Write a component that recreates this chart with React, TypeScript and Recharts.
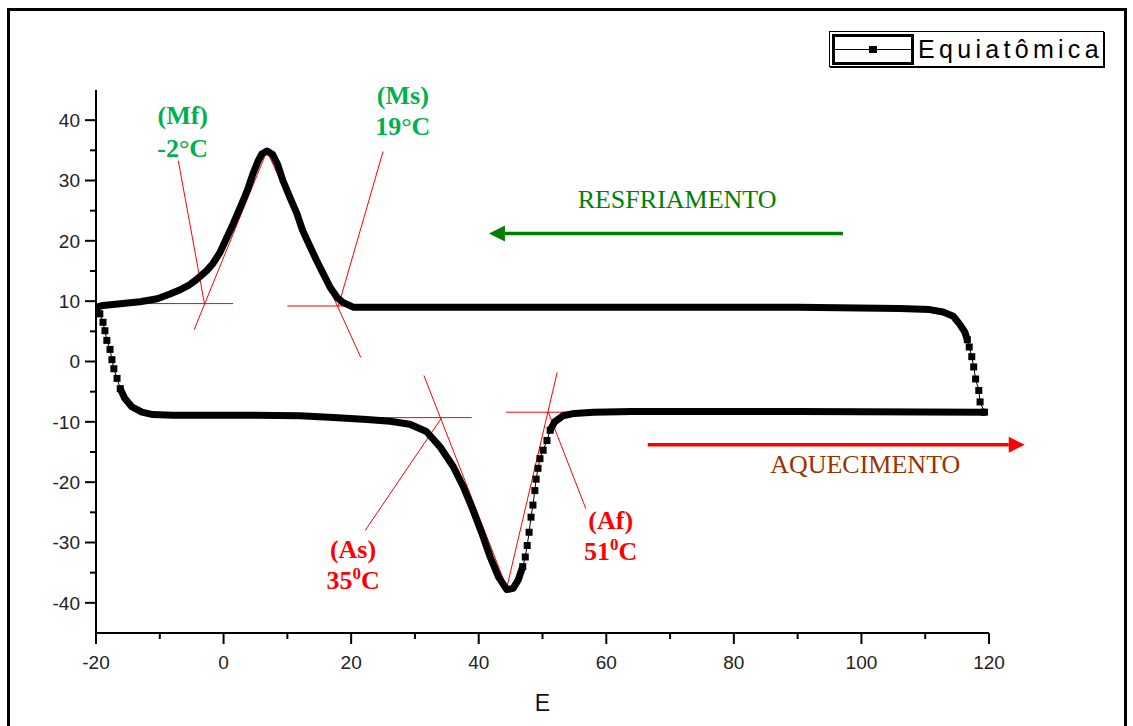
import React from 'react';
import { ComposedChart, Scatter, XAxis, YAxis, ReferenceLine, ReferenceDot } from 'recharts';

// curva DSC (aquecimento = ramo de baixo, resfriamento = ramo de cima)
// trechos "drop/rise" sao os pontos espaçados, os outros sao densos
const heatingDrop = [
  [-19.8, 9.0], [-19.4, 7.9], [-18.9, 6.5], [-18.6, 5.1], [-18.3, 3.5], [-17.8, 2.0],
  [-17.5, 0.3], [-17.2, -1.2], [-16.7, -2.8], [-16.2, -4.5],
];
const heatingBase = [
  [-16.2, -4.5], [-15.5, -6.1], [-14.4, -7.5], [-12.8, -8.4], [-11.1, -8.8], [-7.9, -8.9],
  [4.1, -8.9], [12.0, -9.0], [17.2, -9.3], [22.5, -9.6], [26.1, -9.9], [29.2, -10.4],
  [31.8, -11.6], [33.9, -14.1], [36.0, -17.4], [37.6, -20.8], [39.1, -24.6], [40.5, -28.5],
  [41.8, -32.4], [43.1, -35.7], [44.4, -37.8], [45.4, -37.6], [46.2, -36.2], [46.9, -34.0],
];
const heatingRise = [
  [46.9, -34.0], [47.3, -32.4], [47.6, -30.5], [47.9, -28.3], [48.2, -25.8], [48.5, -23.8],
  [48.8, -21.4], [49.0, -19.5], [49.3, -17.7], [49.6, -16.1], [50.1, -14.7], [50.7, -13.1],
  [51.2, -11.4],
];
const heatingTail = [
  [51.2, -11.4], [51.9, -10.0], [53.2, -9.0], [55.0, -8.6], [58.0, -8.4], [64.0, -8.3],
  [90.0, -8.3], [119.5, -8.4],
];
const coolingRise = [
  [119.3, -8.4], [118.6, -6.7], [118.4, -4.8], [117.9, -2.9], [117.6, -0.9], [117.3, 0.8],
  [116.9, 2.4], [116.6, 3.6],
];
const coolingBase = [
  [116.6, 3.6], [116.2, 4.9], [115.4, 6.2], [114.4, 7.5], [112.8, 8.2], [110.7, 8.6],
  [106.0, 8.8], [90.0, 9.0], [60.0, 9.0], [40.0, 9.0], [24.5, 9.0], [20.3, 9.0],
  [18.7, 9.8], [17.8, 10.6], [16.7, 12.3], [15.6, 14.6], [14.6, 16.7], [13.5, 19.2],
  [12.4, 21.7], [11.5, 24.5], [10.4, 27.2], [9.3, 30.0], [8.5, 32.6], [7.7, 34.3],
  [6.8, 34.9], [6.0, 34.4], [5.4, 33.2], [4.6, 31.1], [3.7, 28.3], [2.6, 25.5],
  [1.5, 22.8], [0.5, 20.5], [-0.6, 18.0], [-1.7, 16.2], [-2.6, 15.1], [-4.2, 13.6],
  [-5.5, 12.6], [-7.0, 11.8], [-8.4, 11.2], [-10.4, 10.4], [-13.1, 9.9], [-15.8, 9.6],
  [-18.9, 9.3], [-19.8, 9.0],
];

const xTicks = [-20, -10, 0, 10, 20, 30, 40, 50, 60, 70, 80, 90, 100, 110, 120];
const yTicks = [-40, -35, -30, -25, -20, -15, -10, -5, 0, 5, 10, 15, 20, 25, 30, 35, 40];

// retas tangentes (vermelho)
const tangents = [
  [[-18.9, 9.6], [1.5, 9.6]],
  [[-7.1, 33.3], [-3.0, 9.6]],
  [[6.8, 34.9], [-4.6, 5.3]],
  [[10.0, 9.2], [23.7, 9.2]],
  [[6.8, 34.9], [21.5, 0.7]],
  [[25.0, 34.8], [18.0, 9.2]],
  [[21.7, -9.3], [38.9, -9.3]],
  [[22.2, -28.0], [34.2, -9.3]],
  [[31.4, -2.3], [44.4, -37.5]],
  [[44.4, -37.5], [52.3, -1.8]],
  [[44.3, -8.4], [58.0, -8.4]],
  [[50.9, -8.4], [56.8, -24.4]],
];

const toPts = (rows: number[][]) => rows.map(([x, y]) => ({ x, y }));

const serif = '"Liberation Serif", "Times New Roman", serif';
const sans = '"Liberation Sans", Arial, sans-serif';

const Square = ({ cx, cy }: any) => <rect x={cx - 3.5} y={cy - 3.5} width={7} height={7} fill="#000" />;
const NoDot = () => <g />;

const XTick = ({ x, y, payload }: any) => {
  const major = payload.value % 20 === 0;
  return (
    <g>
      <line x1={x} x2={x} y1={y} y2={y + (major ? 11 : 6)} stroke="#000" strokeWidth={2} />
      {major && (
        <text x={x} y={y + 36} textAnchor="middle" fontFamily={sans} fontSize={19} fill="#222">
          {payload.value}
        </text>
      )}
    </g>
  );
};

const YTick = ({ x, y, payload }: any) => {
  const major = payload.value % 10 === 0;
  return (
    <g>
      <line x1={x - (major ? 11 : 6)} x2={x} y1={y} y2={y} stroke="#000" strokeWidth={2} />
      {major && (
        <text x={x - 16} y={y} dy="0.36em" textAnchor="end" fontFamily={sans} fontSize={19} fill="#222">
          {payload.value}
        </text>
      )}
    </g>
  );
};

const arrowShape = (color: string) => (p: any) => {
  const { x1, y1, x2, y2 } = p;
  const dir = x2 > x1 ? 1 : -1;
  const head = 16;
  return (
    <g>
      <line x1={x1} y1={y1} x2={x2 - dir * head} y2={y2} stroke={color} strokeWidth={3.5} />
      <polygon points={`${x2},${y2} ${x2 - dir * head},${y2 - 8} ${x2 - dir * head},${y2 + 8}`} fill={color} />
    </g>
  );
};

// rotulo de duas linhas, a segunda com expoente opcional
const twoLines = (l1: string, l2: string, sup: string, tail: string, color: string, gap: number) => (p: any) => (
  <text x={p.cx} y={p.cy} textAnchor="middle" fontFamily={serif} fontWeight="bold" fontSize={26} fill={color}>
    <tspan x={p.cx}>{l1}</tspan>
    <tspan x={p.cx} dy={gap}>{l2}</tspan>
    {sup && <tspan dy={-10} fontSize={17}>{sup}</tspan>}
    {sup && <tspan dy={10}>{tail}</tspan>}
  </text>
);

const plainText = (txt: string, color: string) => (p: any) => (
  <text x={p.cx} y={p.cy} textAnchor="middle" fontFamily={serif} fontSize={26} fill={color}>
    {txt}
  </text>
);

export default function App() {
  return (
    <div style={{ position: 'fixed', left: 0, top: 0, width: 1133, height: 726, overflow: 'hidden', background: '#fff' }}>
      <ComposedChart width={1133} height={726} margin={{ top: 90, right: 144, bottom: 33, left: 36 }}>
        <XAxis
          dataKey="x"
          type="number"
          domain={[-20, 120]}
          ticks={xTicks}
          interval={0}
          tickSize={0}
          tickMargin={0}
          tickLine={false}
          tick={<XTick />}
          height={60}
          axisLine={{ stroke: '#000', strokeWidth: 2 }}
          allowDataOverflow
          label={{ value: 'E', position: 'bottom', offset: 2, style: { fontFamily: sans, fontSize: 23, fill: '#111' } }}
        />
        <YAxis
          dataKey="y"
          type="number"
          domain={[-45, 45]}
          ticks={yTicks}
          interval={0}
          tickSize={0}
          tickMargin={0}
          tickLine={false}
          tick={<YTick />}
          width={60}
          axisLine={{ stroke: '#000', strokeWidth: 2 }}
          allowDataOverflow
        />

        <Scatter data={toPts(heatingBase)} shape={NoDot} line={{ stroke: '#000', strokeWidth: 7, strokeLinejoin: 'round' }} isAnimationActive={false} />
        <Scatter data={toPts(heatingTail)} shape={NoDot} line={{ stroke: '#000', strokeWidth: 7, strokeLinejoin: 'round' }} isAnimationActive={false} />
        <Scatter data={toPts(coolingBase)} shape={NoDot} line={{ stroke: '#000', strokeWidth: 7, strokeLinejoin: 'round' }} isAnimationActive={false} />
        <Scatter data={toPts(heatingDrop)} shape={Square} line={{ stroke: '#000', strokeWidth: 1 }} isAnimationActive={false} />
        <Scatter data={toPts(heatingRise)} shape={Square} line={{ stroke: '#000', strokeWidth: 1 }} isAnimationActive={false} />
        <Scatter data={toPts(coolingRise)} shape={Square} line={{ stroke: '#000', strokeWidth: 1 }} isAnimationActive={false} />

        {tangents.map(([a, b], i) => (
          <ReferenceLine key={i} segment={[{ x: a[0], y: a[1] }, { x: b[0], y: b[1] }]} stroke="#ff0000" strokeWidth={1} ifOverflow="visible" />
        ))}

        <ReferenceLine segment={[{ x: 97.1, y: 21.2 }, { x: 41.6, y: 21.2 }]} ifOverflow="visible" shape={arrowShape('#008000')} />
        <ReferenceLine segment={[{ x: 66.5, y: -13.8 }, { x: 125.6, y: -13.8 }]} ifOverflow="visible" shape={arrowShape('#ff0000')} />

        <ReferenceDot x={-6.4} y={39.3} r={0} ifOverflow="visible" shape={twoLines('(Mf)', '-2°C', '', '', '#00b050', 33)} />
        <ReferenceDot x={28.1} y={42.6} r={0} ifOverflow="visible" shape={twoLines('(Ms)', '19°C', '', '', '#00b050', 31)} />
        <ReferenceDot x={20.3} y={-32.6} r={0} ifOverflow="visible" shape={twoLines('(As)', '35', '0', 'C', '#ff0000', 31)} />
        <ReferenceDot x={60.7} y={-27.8} r={0} ifOverflow="visible" shape={twoLines('(Af)', '51', '0', 'C', '#ff0000', 31)} />
        <ReferenceDot x={71.1} y={25.4} r={0} ifOverflow="visible" shape={plainText('RESFRIAMENTO', '#008000')} />
        <ReferenceDot x={100.6} y={-18.4} r={0} ifOverflow="visible" shape={plainText('AQUECIMENTO', '#993300')} />
      </ComposedChart>

      {/* moldura externa */}
      <div style={{ position: 'absolute', left: 7, top: 8, width: 1120, height: 760, border: '3px solid #000', boxSizing: 'border-box', pointerEvents: 'none' }} />

      {/* legenda */}
      <div
        style={{
          position: 'absolute', left: 829, top: 31, width: 275, height: 36, boxSizing: 'border-box',
          border: '1px solid #000', boxShadow: '1px 1px 0 #000', background: '#fff', display: 'flex', alignItems: 'center',
        }}
      >
        <svg width={82} height={31} style={{ marginLeft: 2, display: 'block' }}>
          <rect x={1.5} y={1.5} width={79} height={28} fill="none" stroke="#000" strokeWidth={3} />
          <line x1={3} x2={79} y1={15.5} y2={15.5} stroke="#000" strokeWidth={1} />
          <rect x={37} y={12} width={8} height={7} fill="#000" />
        </svg>
        <span style={{ fontFamily: sans, fontSize: 25, letterSpacing: 4.3, marginLeft: 4, lineHeight: '30px' }}>Equiatômica</span>
      </div>
    </div>
  );
}
